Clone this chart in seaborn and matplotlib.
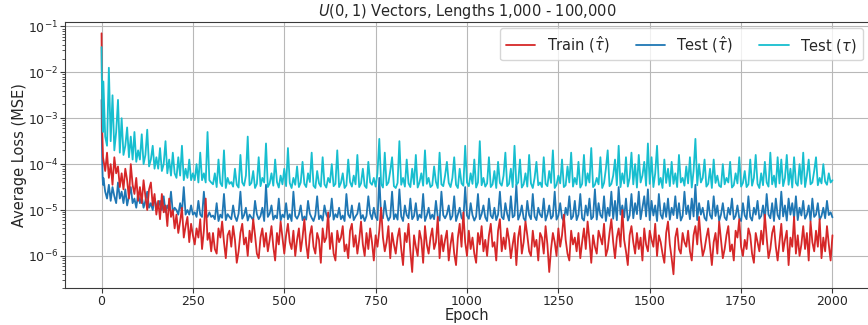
import numpy as np
import pandas as pd
import matplotlib
matplotlib.use("Agg")
import matplotlib.pyplot as plt
import seaborn as sns

# ---------------- data (log10 of average MSE loss) ----------------
epochs = [0, 1, 2, 3, 4] + list(range(5, 2001, 5))

train_hat_log10 = [
    -1.15, -2.4, -3.3, -3.6, -3.85,
    -3.9, -4.15, -3.75, -4.3, -4.0, -4.45, -3.85, -4.2, -4.05, -4.5,
    -4.2, -4.55, -4.1, -4.35, -4.75, -4.0, -4.45, -4.65, -4.3, -4.8,
    -4.5, -4.85, -4.35, -4.7, -5.0, -4.55, -4.4, -4.9, -4.65, -5.1,
    -4.8, -5.2, -4.65, -5.05, -4.9, -5.35, -4.75, -5.15, -5.0, -5.4,
    -5.1, -5.5, -5.25, -4.95, -5.6, -5.35, -5.15, -5.7, -5.3, -5.55,
    -5.75, -5.4, -5.6, -5.2, -5.85, -5.45, -4.75, -5.65, -5.5, -5.9,
    -5.5, -5.85, -5.95, -5.4, -5.6, -5.25, -5.7, -6.05, -5.55, -5.45,
    -5.8, -5.35, -5.65, -6.15, -5.9, -5.5, -5.3, -5.75, -5.6, -6.0,
    -5.45, -5.7, -5.2, -5.55, -5.95, -6.05, -5.6, -5.4, -5.8, -5.5,
    -5.9, -5.65, -5.35, -5.8, -6.1, -5.5, -5.75, -5.25, -5.6, -5.95,
    -5.55, -5.3, -5.7, -5.85, -5.45, -6.0, -5.65, -5.4, -5.9, -5.6,
    -5.2, -5.75, -6.05, -5.55, -5.35, -5.8, -5.95, -5.5, -5.65, -6.15,
    -5.4, -5.7, -5.6, -5.05, -5.85, -5.5, -5.95, -6.1, -5.45, -5.7,
    -5.6, -5.35, -5.9, -5.75, -6.05, -5.45, -5.3, -5.8, -5.55, -5.95,
    -5.65, -5.25, -5.75, -6.0, -5.5, -5.85, -5.4, -5.7, -6.1, -5.55,
    -5.8, -5.45, -4.95, -5.6, -5.9, -5.7, -5.35, -6.05, -5.5, -5.75,
    -5.95, -5.6, -5.4, -5.85, -6.2, -5.5, -5.7, -5.3, -5.9, -6.35,
    -5.55, -5.8, -6.0, -5.45, -5.65, -6.15, -5.35, -5.75, -5.95, -5.6,
    -5.4, -5.85, -5.7, -5.15, -6.05, -5.55, -5.9, -5.65, -5.45, -6.1,
    -5.75, -5.5, -5.95, -6.2, -5.6, -5.3, -5.8, -5.05, -5.7, -6.0,
    -5.45, -5.85, -5.6, -5.95, -6.15, -5.5, -5.75, -5.35, -5.9, -5.65,
    -6.0, -5.55, -5.3, -5.8, -5.7, -6.1, -5.45, -5.2, -5.9, -5.6,
    -5.85, -5.4, -5.65, -6.05, -5.75, -5.5, -6.2, -5.6, -5.35, -5.95,
    -5.7, -5.25, -5.55, -5.9, -6.0, -5.45, -5.8, -5.65, -6.1, -5.5,
    -5.6, -5.95, -5.35, -5.75, -6.35, -5.85, -5.5, -5.7, -6.0, -5.4,
    -5.8, -5.55, -5.1, -5.65, -5.95, -6.1, -5.45, -5.75, -5.6, -5.9,
    -5.5, -6.05, -5.7, -5.4, -5.85, -5.25, -5.65, -6.15, -5.55, -5.8,
    -5.95, -5.45, -5.6, -5.75, -5.3, -6.0, -5.85, -5.5, -5.2, -5.7,
    -6.05, -5.6, -5.4, -5.8, -5.0, -5.65, -5.9, -6.2, -5.55, -5.35,
    -5.7, -5.95, -5.5, -5.85, -5.6, -6.1, -5.4, -5.75, -5.9, -5.45,
    -5.65, -5.8, -5.3, -6.0, -5.55, -5.7, -5.95, -6.15, -5.5, -5.25,
    -5.75, -6.05, -6.4, -5.6, -5.4, -5.85, -5.95, -5.5, -5.7, -5.8,
    -5.45, -5.9, -6.1, -5.55, -5.35, -5.75, -5.15, -5.65, -6.0, -5.85,
    -5.6, -5.4, -5.8, -6.2, -5.7, -5.5, -5.95, -5.25, -5.65, -6.05,
    -5.85, -5.55, -5.35, -5.9, -5.75, -6.1, -5.45, -5.6, -5.2, -5.8,
    -6.0, -5.65, -5.85, -5.4, -5.55, -5.95, -6.15, -5.5, -5.7, -5.9,
    -5.45, -5.75, -5.1, -5.6, -6.05, -5.85, -5.5, -5.35, -5.8, -6.1,
    -5.7, -5.3, -5.9, -5.65, -5.45, -6.2, -5.6, -5.8, -5.15, -5.95,
    -5.55, -6.0, -5.75, -5.35, -5.85, -5.5, -6.1, -5.25, -5.7, -5.9,
    -5.45, -5.8, -5.2, -6.05, -5.6, -5.9, -5.35, -5.75, -6.1, -5.55,
]

test_hat_log10 = [
    -2.6, -3.5, -4.0, -4.3, -4.45,
    -4.3, -4.6, -4.75, -4.45, -4.8, -4.5, -4.7, -4.85, -4.4, -4.75,
    -4.6, -4.85, -4.55, -4.9, -4.7, -4.5, -4.85, -4.75, -4.95, -4.65,
    -4.85, -4.7, -4.95, -4.8, -4.6, -4.95, -4.85, -5.0, -4.75, -4.9,
    -4.95, -4.8, -5.0, -4.7, -5.05, -4.9, -5.0, -4.6, -5.05, -4.95,
    -5.0, -5.1, -4.85, -5.05, -4.5, -5.1, -5.0, -5.1, -4.9, -5.1,
    -5.05, -5.15, -4.8, -5.1, -5.15, -4.6, -5.1, -5.15, -5.05, -5.15,
    -5.12, -5.2, -4.85, -5.24, -5.1, -5.17, -4.65, -5.22, -5.09, -5.15,
    -5.2, -4.9, -5.14, -5.24, -5.08, -4.6, -5.19, -5.11, -4.95, -5.23,
    -5.1, -5.16, -5.22, -4.8, -5.09, -5.2, -5.13, -4.95, -5.24, -4.45,
    -5.15, -5.08, -4.9, -5.21, -5.12, -5.18, -4.75, -5.23, -5.1, -5.16,
    -4.85, -5.2, -5.09, -5.24, -4.6, -5.13, -5.19, -5.1, -4.9, -5.22,
    -5.14, -5.21, -4.8, -5.08, -5.17, -5.24, -5.11, -4.7, -5.2, -5.12,
    -5.23, -4.9, -5.1, -5.18, -5.13, -4.75, -5.21, -5.09, -5.16, -4.95,
    -5.2, -5.12, -5.24, -4.65, -5.1, -5.17, -4.9, -5.22, -5.14, -5.08,
    -4.85, -5.19, -5.11, -5.24, -5.13, -4.7, -5.08, -5.2, -4.95, -5.15,
    -5.22, -4.3, -5.12, -5.18, -4.8, -5.1, -5.23, -5.15, -4.6, -5.2,
    -5.09, -5.21, -4.55, -5.14, -5.24, -4.9, -5.11, -5.18, -4.75, -5.2,
    -5.13, -4.85, -5.22, -5.1, -5.17, -4.65, -5.24, -5.12, -4.95, -5.19,
    -5.1, -5.2, -4.8, -5.15, -5.23, -4.6, -5.11, -5.18, -5.09, -4.9,
    -5.21, -5.13, -4.7, -5.24, -5.1, -4.95, -5.17, -5.22, -4.5, -5.12,
    -5.19, -4.85, -5.11, -5.23, -5.14, -4.65, -5.2, -5.09, -4.9, -5.16,
    -5.24, -4.75, -5.12, -5.18, -4.95, -5.22, -5.1, -4.6, -5.15, -5.2,
    -4.85, -5.09, -5.23, -4.7, -5.16, -5.12, -4.45, -5.21, -5.1, -4.9,
    -5.18, -5.24, -4.8, -5.11, -5.2, -4.65, -5.14, -5.22, -4.95, -5.1,
    -5.16, -4.75, -5.23, -5.1, -4.9, -5.19, -5.13, -4.6, -5.21, -5.12,
    -4.85, -5.17, -5.24, -4.95, -5.11, -4.7, -5.2, -5.14, -4.8, -5.22,
    -5.1, -4.65, -5.18, -5.23, -4.9, -5.12, -4.75, -5.2, -5.15, -4.55,
    -5.21, -4.85, -5.11, -5.17, -4.7, -5.24, -4.95, -5.13, -4.6, -5.19,
    -4.8, -5.22, -4.5, -5.1, -4.9, -5.16, -4.75, -5.23, -5.12, -4.65,
    -5.18, -4.85, -5.09, -4.6, -5.2, -4.95, -4.7, -5.14, -4.55, -5.22,
    -4.8, -5.12, -4.9, -5.24, -4.65, -5.1, -5.19, -4.85, -5.15, -4.75,
    -5.21, -4.95, -5.11, -4.7, -5.18, -4.85, -5.23, -5.13, -4.6, -5.09,
    -4.9, -5.2, -4.75, -5.14, -4.45, -5.22, -4.85, -5.1, -4.95, -5.17,
    -5.23, -4.8, -5.11, -5.19, -4.7, -5.13, -4.9, -5.24, -5.1, -4.85,
    -5.16, -5.22, -4.95, -5.1, -4.75, -5.2, -5.13, -4.9, -5.18, -5.24,
    -4.85, -5.12, -5.2, -4.7, -5.15, -5.23, -4.95, -5.1, -4.8, -5.19,
    -5.13, -4.9, -5.22, -4.65, -5.1, -5.18, -4.85, -5.24, -4.75, -5.11,
    -5.2, -4.6, -5.14, -4.9, -5.23, -4.75, -5.1, -4.85, -5.17, -4.7,
    -5.22, -4.95, -5.12, -4.8, -5.19, -5.1, -4.9, -5.24, -4.75, -5.15,
    -5.1, -4.85, -5.21, -5.13, -4.95, -5.18, -4.8, -5.11, -5.05, -5.16,
]

test_log10 = [
    -1.45, -2.3, -2.7, -3.0, -3.3,
    -2.2, -3.4, -3.6, -1.9, -3.5, -2.5, -3.7, -3.3, -2.6, -3.75,
    -3.0, -3.8, -3.6, -3.2, -3.85, -3.4, -3.9, -3.3, -3.95, -3.7,
    -3.9, -3.35, -4.0, -3.8, -3.25, -4.05, -3.9, -3.6, -4.1, -3.85,
    -4.1, -3.65, -4.15, -4.0, -3.5, -4.2, -3.9, -4.25, -3.75, -4.2,
    -4.3, -3.85, -4.25, -3.6, -4.35, -4.1, -4.3, -3.9, -4.35, -4.2,
    -4.35, -4.0, -4.4, -3.75, -4.35, -4.2, -4.4, -3.3, -4.35, -4.4,
    -4.44, -4.2, -4.5, -3.9, -4.41, -4.48, -3.7, -4.52, -4.3, -4.43,
    -4.39, -4.49, -4.1, -4.45, -4.51, -3.8, -4.4, -4.47, -4.25, -3.4,
    -4.46, -4.41, -4.15, -4.52, -4.43, -3.85, -4.48, -4.3, -4.4, -3.55,
    -4.5, -4.42, -4.2, -4.47, -3.9, -4.39, -4.51, -4.25, -4.44, -4.1,
    -4.48, -3.65, -4.41, -4.52, -4.3, -4.45, -4.05, -4.5, -4.4, -3.95,
    -4.43, -4.5, -4.2, -4.39, -3.75, -4.47, -4.52, -4.15, -4.42, -4.49,
    -3.85, -4.44, -4.51, -4.3, -4.4, -4.0, -4.48, -4.43, -3.7, -4.5,
    -4.41, -4.2, -4.52, -4.46, -3.9, -4.39, -4.49, -4.25, -4.44, -3.8,
    -4.5, -4.42, -4.1, -4.47, -4.52, -3.95, -4.4, -4.45, -4.3, -4.49,
    -4.2, -3.45, -4.43, -4.51, -3.75, -4.46, -4.4, -4.15, -3.85, -4.48,
    -4.52, -4.41, -3.5, -4.45, -4.3, -4.49, -3.9, -4.42, -4.5, -4.1,
    -4.44, -3.8, -4.51, -4.4, -4.2, -4.47, -3.7, -4.43, -4.3, -4.5,
    -4.46, -4.05, -4.39, -4.52, -3.75, -4.44, -4.48, -4.25, -3.95, -4.41,
    -4.5, -4.3, -3.85, -4.45, -4.52, -4.1, -4.42, -4.47, -3.6, -4.4,
    -4.48, -4.2, -4.43, -3.9, -4.51, -4.4, -3.5, -4.46, -4.3, -4.49,
    -4.42, -3.85, -4.5, -4.44, -4.15, -4.52, -3.95, -4.41, -4.47, -4.25,
    -3.75, -4.48, -4.43, -4.1, -4.5, -3.6, -4.45, -4.4, -3.9, -4.51,
    -4.44, -4.2, -4.49, -3.8, -4.42, -4.52, -4.3, -3.95, -4.46, -4.4,
    -4.5, -3.85, -4.43, -4.48, -4.15, -4.41, -3.7, -4.52, -4.45, -4.25,
    -4.42, -3.9, -4.5, -4.46, -4.05, -4.4, -3.75, -4.49, -4.3, -4.44,
    -3.95, -4.51, -4.43, -3.8, -4.47, -4.2, -4.4, -3.65, -4.5, -4.45,
    -4.3, -4.44, -3.85, -4.52, -4.41, -4.1, -3.7, -4.48, -4.43, -4.25,
    -3.9, -4.46, -3.6, -4.5, -4.2, -4.42, -3.85, -4.49, -4.3, -3.75,
    -4.44, -4.0, -4.51, -3.8, -4.4, -4.25, -3.95, -4.47, -3.55, -4.43,
    -3.85, -4.5, -4.2, -3.6, -4.45, -4.3, -4.52, -3.9, -4.41, -4.1,
    -4.48, -3.95, -4.43, -4.2, -4.5, -3.8, -4.4, -4.3, -4.47, -4.05,
    -4.42, -3.85, -4.51, -4.15, -3.45, -4.46, -4.0, -4.4, -4.3, -3.9,
    -4.49, -4.43, -4.1, -4.52, -3.9, -4.41, -4.25, -4.47, -4.5, -4.0,
    -4.44, -4.3, -4.4, -3.95, -4.51, -4.46, -4.2, -4.42, -3.85, -4.49,
    -4.41, -4.15, -4.5, -4.44, -3.9, -4.47, -4.3, -3.8, -4.43, -4.52,
    -4.2, -4.46, -3.95, -4.4, -4.49, -3.75, -4.44, -4.25, -4.5, -3.85,
    -4.42, -3.9, -4.48, -4.3, -3.8, -4.45, -4.1, -4.51, -3.85, -4.41,
    -4.47, -4.0, -4.43, -3.75, -4.5, -4.25, -3.9, -4.44, -4.4, -4.15,
    -3.85, -4.46, -4.3, -4.42, -4.0, -4.38, -4.45, -4.2, -4.4, -4.35,
]

series_labels = [r"Train ($\hat{\tau}$)", r"Test ($\hat{\tau}$)", r"Test ($\tau$)"]
series_colors = ["#d62728", "#1f77b4", "#17becf"]
x_ticks = [0, 250, 500, 750, 1000, 1250, 1500, 1750, 2000]
title_text = r"$U(0, 1)$ Vectors, Lengths 1,000 - 100,000"

assert len(train_hat_log10) == len(epochs), len(train_hat_log10)
assert len(test_hat_log10) == len(epochs), len(test_hat_log10)
assert len(test_log10) == len(epochs), len(test_log10)

# ---------------- styling ----------------
sns.set_style("whitegrid", {
    "axes.edgecolor": "#3a3a3a",
    "grid.color": "#b8b8b8",
    "xtick.bottom": True,
    "ytick.left": True,
    "axes.linewidth": 1.0,
})
plt.rcParams["font.family"] = ["DejaVu Sans"]
plt.rcParams["mathtext.fontset"] = "dejavusans"

fig = plt.figure(figsize=(8.68, 3.25), dpi=100)
# axes runs slightly past the right edge of the canvas, as in the reference crop
ax = fig.add_axes([65 / 868, 1 - 288 / 325, (869 - 65) / 868, (288 - 22) / 325])

frames = []
for lab, vals in zip(series_labels, [train_hat_log10, test_hat_log10, test_log10]):
    frames.append(pd.DataFrame({"Epoch": epochs,
                                "Loss": np.power(10.0, np.array(vals)),
                                "Series": lab}))
df = pd.concat(frames, ignore_index=True)

zorders = [3, 2, 4]
for lab, col, z in zip(series_labels, series_colors, zorders):
    sub = df[df["Series"] == lab]
    sns.lineplot(data=sub, x="Epoch", y="Loss", color=col, linewidth=1.3,
                 label=lab, ax=ax, zorder=z, estimator=None)

ax.set_yscale("log")
ax.set_xticks(x_ticks)
ax.set_xlim(-100, 2100)
ax.set_ylim(2.0e-7, 1.25e-1)
ax.tick_params(axis="both", which="major", labelsize=9, length=3.5, width=0.8,
               color="#3a3a3a", pad=1.5)
ax.tick_params(axis="y", which="minor", length=2, width=0.6, left=True, color="#3a3a3a")
ax.grid(True, which="major", color="#b8b8b8", linewidth=0.8)
ax.grid(False, which="minor")
ax.set_xlabel("Epoch", fontsize=10.5)
ax.set_ylabel("Average Loss (MSE)", fontsize=10.5)
ax.xaxis.set_label_coords(0.5, -0.0755)
ax.yaxis.set_label_coords(-0.047, 0.5)
ax.set_title(title_text, fontsize=10.5, pad=4)

ax.legend(loc="upper right", ncol=3, fontsize=10.5, frameon=True,
          handlelength=2.0, columnspacing=1.8, borderaxespad=0.0,
          bbox_to_anchor=(863 / 868, 1 - 28 / 325), bbox_transform=fig.transFigure,
          fancybox=True, framealpha=0.8)

fig.savefig("out.png", dpi=100)
